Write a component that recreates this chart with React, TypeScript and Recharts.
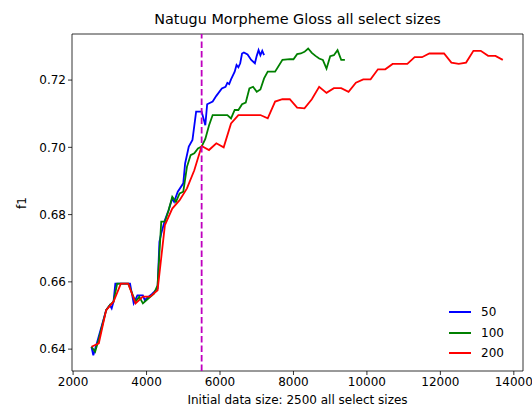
import { LineChart, Line, XAxis, YAxis, ReferenceLine, ReferenceArea } from "recharts";

// select size 50
const SIZES_50 = [2500, 2550, 2650, 2900, 3000, 3050, 3100, 3150, 3550, 3650, 3750, 3900, 3950, 4150, 4300, 4350, 4400, 4500, 4600, 4700, 4750, 4850, 5000, 5050, 5150, 5250, 5350, 5500, 5600, 5650, 5800, 5900, 6050, 6150, 6200, 6250, 6300, 6400, 6450, 6500, 6550, 6600, 6650, 6750, 6850, 6950, 7000, 7050, 7100, 7150, 7200];
const F1_50 = [0.6407, 0.6382, 0.6419, 0.6516, 0.6531, 0.6521, 0.6541, 0.6595, 0.6595, 0.6536, 0.6560, 0.6560, 0.6546, 0.6564, 0.6580, 0.6719, 0.6744, 0.6784, 0.6813, 0.6848, 0.6838, 0.6868, 0.6893, 0.6952, 0.7002, 0.7022, 0.7106, 0.7106, 0.7066, 0.7128, 0.7136, 0.7153, 0.7175, 0.7180, 0.7192, 0.7188, 0.7202, 0.7225, 0.7245, 0.7238, 0.7250, 0.7279, 0.7282, 0.7276, 0.7260, 0.7250, 0.7272, 0.7289, 0.7274, 0.7287, 0.7274];

// select size 100
const SIZES_100 = [2500, 2600, 2700, 2900, 3000, 3100, 3200, 3500, 3700, 3800, 3900, 4000, 4200, 4300, 4400, 4500, 4600, 4700, 4800, 4900, 5000, 5100, 5200, 5300, 5400, 5500, 5600, 5700, 5800, 6200, 6300, 6400, 6500, 6600, 6700, 6800, 6900, 7000, 7100, 7200, 7300, 7500, 7700, 7900, 8000, 8100, 8200, 8300, 8400, 8500, 8600, 8700, 8800, 8900, 9000, 9100, 9200, 9300, 9400];
const F1_100 = [0.6407, 0.6392, 0.6430, 0.6516, 0.6531, 0.6541, 0.6595, 0.6595, 0.6541, 0.6556, 0.6536, 0.6546, 0.6565, 0.6590, 0.6779, 0.6779, 0.6813, 0.6853, 0.6838, 0.6863, 0.6868, 0.6942, 0.6977, 0.6982, 0.6997, 0.7002, 0.7025, 0.7065, 0.7096, 0.7096, 0.7086, 0.7111, 0.7111, 0.7128, 0.7133, 0.7175, 0.7180, 0.7165, 0.7172, 0.7205, 0.7225, 0.7225, 0.7260, 0.7262, 0.7262, 0.7277, 0.7279, 0.7284, 0.7294, 0.7281, 0.7272, 0.7264, 0.7260, 0.7234, 0.7271, 0.7274, 0.7289, 0.7260, 0.7260];

// select size 200
const SIZES_200 = [2500, 2700, 2900, 3100, 3300, 3500, 3700, 3900, 4100, 4300, 4500, 4700, 4900, 5100, 5300, 5500, 5700, 5900, 6100, 6300, 6500, 6700, 6900, 7100, 7300, 7500, 7700, 7900, 8100, 8300, 8500, 8700, 8900, 9100, 9300, 9500, 9700, 9900, 10100, 10300, 10500, 10700, 10900, 11100, 11300, 11500, 11700, 11900, 12100, 12300, 12500, 12700, 12900, 13100, 13300, 13500, 13700];
const F1_200 = [0.6407, 0.6417, 0.6516, 0.6541, 0.6595, 0.6595, 0.6536, 0.6556, 0.6556, 0.6575, 0.6769, 0.6818, 0.6843, 0.6878, 0.6932, 0.7004, 0.6992, 0.7012, 0.7000, 0.7071, 0.7096, 0.7096, 0.7096, 0.7096, 0.7086, 0.7136, 0.7143, 0.7143, 0.7118, 0.7116, 0.7143, 0.7180, 0.7162, 0.7176, 0.7176, 0.7165, 0.7192, 0.7202, 0.7202, 0.7232, 0.7232, 0.7248, 0.7248, 0.7248, 0.7268, 0.7268, 0.7279, 0.7279, 0.7279, 0.7252, 0.7248, 0.7252, 0.7287, 0.7287, 0.7272, 0.7272, 0.7260];

const X_TICKS = [2000, 4000, 6000, 8000, 10000, 12000, 14000];
const Y_TICKS = [0.64, 0.66, 0.68, 0.70, 0.72];
const SPLIT_AT = 5500;

const X_MIN = 1970, X_MAX = 14250;
const Y_MIN = 0.6335, Y_MAX = 0.7337;
const FONT = "'DejaVu Sans', sans-serif";

const series = [
  { name: "50", color: "#0000ff", data: SIZES_50.map((s, i) => ({ size: s, f1: F1_50[i] })) },
  { name: "100", color: "#008000", data: SIZES_100.map((s, i) => ({ size: s, f1: F1_100[i] })) },
  { name: "200", color: "#ff0000", data: SIZES_200.map((s, i) => ({ size: s, f1: F1_200[i] })) },
];

function LegendBox() {
  return (
    <div style={{ position: "absolute", left: 449, top: 302, fontFamily: FONT, fontSize: 12, color: "#000" }}>
      {series.map(s => (
        <div key={s.name} style={{ display: "flex", alignItems: "center", height: 20.5 }}>
          <span style={{ width: 22, height: 2, background: s.color, marginRight: 10 }} />
          <span>{s.name}</span>
        </div>
      ))}
    </div>
  );
}

export default function App() {
  const tick = { fill: "#000", fontSize: 12, fontFamily: FONT };
  return (
    <div style={{ position: "absolute", left: 0, top: 0, width: 532, height: 407, background: "#fff" }}>
      <LineChart width={532} height={407} margin={{ top: 34, right: 9, bottom: 0, left: 0 }}>
        <XAxis dataKey="size" type="number" domain={[X_MIN, X_MAX]} ticks={X_TICKS} allowDataOverflow
          tick={tick} tickSize={4} tickLine={{ stroke: "#000", strokeWidth: 0.8 }} axisLine={false} height={36} />
        <YAxis type="number" domain={[Y_MIN, Y_MAX]} ticks={Y_TICKS} allowDataOverflow width={72}
          tickFormatter={(v: number) => v.toFixed(2)}
          tick={tick} tickSize={4} tickLine={{ stroke: "#000", strokeWidth: 0.8 }} axisLine={false} />
        {series.map(s => (
          <Line key={s.name} data={s.data} dataKey="f1" name={s.name} stroke={s.color} strokeWidth={1.8}
            dot={false} isAnimationActive={false} type="linear" />
        ))}
        <ReferenceLine x={SPLIT_AT} stroke="#bf00bf" strokeWidth={1.8} strokeDasharray="6.6 2.9" />
        <ReferenceArea x1={X_MIN} x2={X_MAX} y1={Y_MIN} y2={Y_MAX} fill="none" stroke="#000" strokeWidth={0.8} />
      </LineChart>
      <LegendBox />
      <div style={{ position: "absolute", left: 72, width: 451, top: 11, textAlign: "center", fontFamily: FONT, fontSize: 14.4, color: "#000" }}>
        Natugu Morpheme Gloss all select sizes
      </div>
      <div style={{ position: "absolute", left: 72, width: 451, top: 393, textAlign: "center", fontFamily: FONT, fontSize: 12, color: "#000" }}>
        Initial data size: 2500 all select sizes
      </div>
      <div style={{ position: "absolute", left: 22, top: 203, transform: "translate(-50%, -50%) rotate(-90deg)", fontFamily: FONT, fontSize: 12, color: "#000" }}>
        f1
      </div>
    </div>
  );
}
